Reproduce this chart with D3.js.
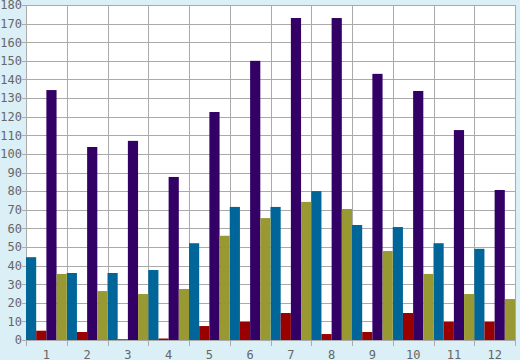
<!DOCTYPE html>
<html><head><meta charset="utf-8">
<script src="https://cdn.jsdelivr.net/npm/d3@7/dist/d3.min.js"></script>
<style>body{margin:0;background:#daeff6;}svg{display:block;}</style>
</head><body><svg id="c" width="520" height="360"></svg>
<script>
const categories = ["1","2","3","4","5","6","7","8","9","10","11","12"];
const seriesNames = ["A","B","C","D"];
const seriesColors = ["#006699","#990000","#330066","#999933"];
const blueValues   = [44.5,36,36,37.6,52,71.5,71.5,80,61.8,60.7,52,49];
const redValues    = [5,4.3,0.4,0.8,7.5,9.8,14.5,3.2,4.3,14.5,9.8,9.8];
const purpleValues = [134.3,103.7,107,87.6,122.5,150,173,173,143,133.8,112.8,80.6];
const oliveValues  = [35.5,26.3,24.7,27.4,56,65.5,74.2,70.4,47.8,35.5,24.7,22];
const yTicks = d3.range(0,181,10);

const allSeries = [blueValues, redValues, purpleValues, oliveValues];
const svg = d3.select("#c");
const L=26, R=515, T=5, B=340;
svg.append("rect").attr("width",520).attr("height",360).attr("fill","#daeff6");
svg.append("rect").attr("x",L).attr("y",T).attr("width",R-L).attr("height",B-T).attr("fill","#fff");

const x = d3.scaleBand().domain(categories).range([L,R]).padding(0);
const xs = d3.scaleBand().domain(seriesNames).range([0,x.bandwidth()]).padding(0);
const y = d3.scaleLinear().domain([0,180]).range([B,T]);

const grid = svg.append("g").attr("stroke","#aaaaaa").attr("stroke-width",1).attr("shape-rendering","crispEdges");
grid.selectAll(".h").data(yTicks).join("line")
  .attr("x1",L-4).attr("x2",R).attr("y1",d=>Math.round(y(d))+0.5).attr("y2",d=>Math.round(y(d))+0.5);
const bounds = categories.map(c=>x(c)).concat([R]);
grid.selectAll(".v").data(bounds).join("line")
  .attr("x1",d=>Math.round(d)+0.5).attr("x2",d=>Math.round(d)+0.5).attr("y1",T).attr("y2",B+6);

const g = svg.append("g");
allSeries.forEach((vals,si)=>{
  g.selectAll(null).data(vals).join("rect")
    .attr("x",(d,i)=>x(categories[i])+xs(seriesNames[si]))
    .attr("width",xs.bandwidth())
    .attr("y",d=>y(d))
    .attr("height",d=>B-y(d))
    .attr("fill",seriesColors[si]);
});

const yAxis = svg.append("g").attr("transform",`translate(${L},0)`)
  .call(d3.axisLeft(y).tickValues(yTicks).tickSize(0).tickPadding(4));
yAxis.select(".domain").remove();
yAxis.selectAll("text").attr("font-family","DejaVu Sans Mono").attr("font-size",12).attr("fill","#666");

const xAxis = svg.append("g").attr("transform",`translate(0,${B})`)
  .call(d3.axisBottom(x).tickSize(0).tickPadding(10));
xAxis.select(".domain").remove();
xAxis.selectAll("text").attr("font-family","DejaVu Sans Mono").attr("font-size",12).attr("fill","#666");
</script></body></html>
